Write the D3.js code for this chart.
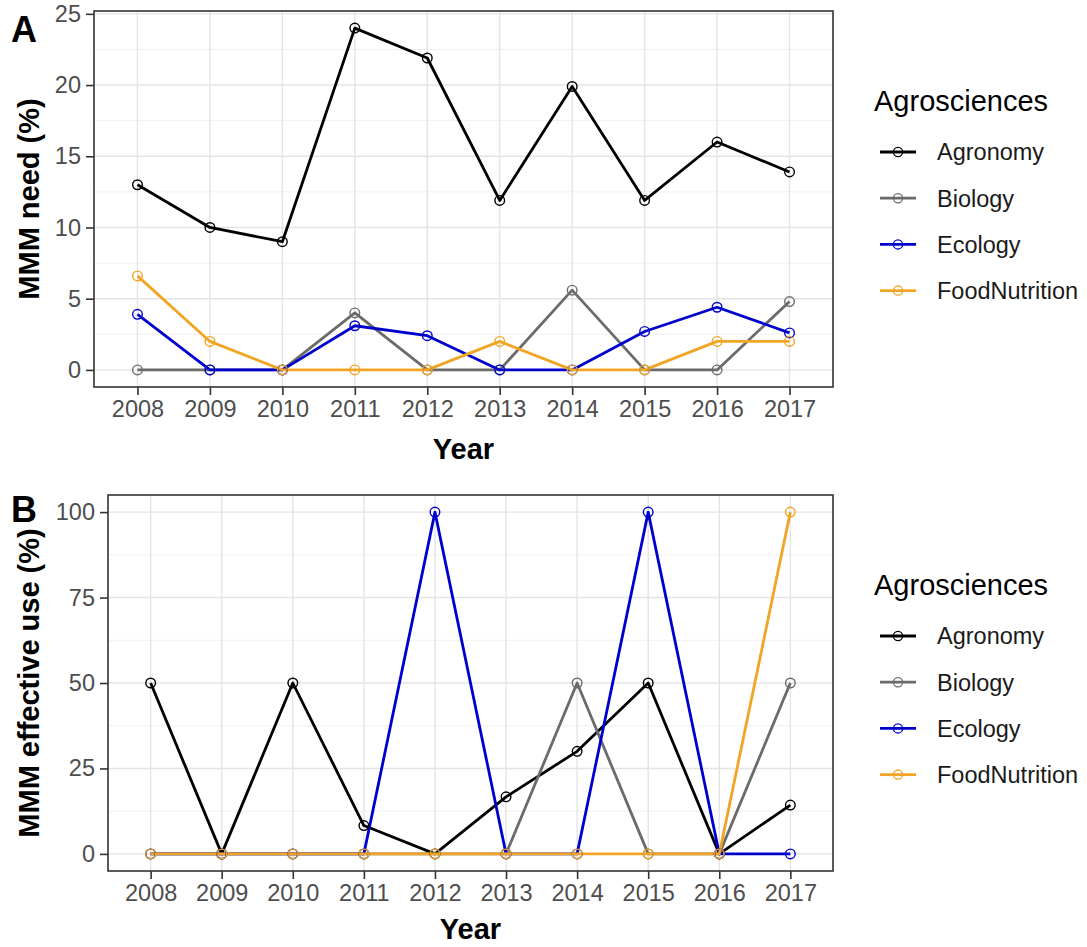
<!DOCTYPE html>
<html>
<head>
<meta charset="utf-8">
<script src="https://cdn.jsdelivr.net/npm/d3@7"></script>
<style>
  html, body { margin: 0; padding: 0; background: #fff; }
  svg { display: block; font-family: "Liberation Sans", Arial, sans-serif; }
</style>
</head>
<body>
<svg id="chart" width="1087" height="947"></svg>
<script>
// Years on the x axis
const years = [2008, 2009, 2010, 2011, 2012, 2013, 2014, 2015, 2016, 2017];
const groups = ["Agronomy", "Biology", "Ecology", "FoodNutrition"];

// Panel A: MMM need (%)
const needAgronomy     = [13, 10, 9, 24, 21.9, 11.9, 19.9, 11.9, 16, 13.9];
const needBiology      = [0, 0, 0, 4, 0, 0, 5.6, 0, 0, 4.8];
const needEcology      = [3.9, 0, 0, 3.1, 2.4, 0, 0, 2.7, 4.4, 2.6];
const needFoodNutrition = [6.6, 2, 0, 0, 0, 2, 0, 0, 2, 2];
const needTicks = [0, 5, 10, 15, 20, 25];

// Panel B: MMM effective use (%)
const useAgronomy      = [50, 0, 50, 8.3, 0, 16.7, 30, 50, 0, 14.3];
const useBiology       = [0, 0, 0, 0, 0, 0, 50, 0, 0, 50];
const useEcology       = [0, 0, 0, 0, 100, 0, 0, 100, 0, 0];
const useFoodNutrition = [0, 0, 0, 0, 0, 0, 0, 0, 0, 100];
const useTicks = [0, 25, 50, 75, 100];

const palette = {
  Agronomy: "#000000",
  Biology: "#6b6b6b",
  Ecology: "#0000cd",
  FoodNutrition: "#f0a524"
};

const svg = d3.select("#chart");
svg.append("rect").attr("width", 1087).attr("height", 947).attr("fill", "#fff");

function drawPanel(opt) {
  const { left, top, right, bottom, seriesValues, ticks, yTitle, tag, tagY, legendTop, xTitleY } = opt;
  const g = svg.append("g");

  const x = d3.scalePoint().domain(years).range([left, right]).padding(0.6);
  const maxV = d3.max(seriesValues.flat());
  const pad = maxV * 0.05;
  const y = d3.scaleLinear().domain([-pad, maxV + pad]).range([bottom, top]);

  // minor grid (half-way between major ticks)
  const step = ticks[1] - ticks[0];
  const minor = d3.range(ticks[0] - step / 2, maxV + pad, step)
    .filter(v => v > -pad && v < maxV + pad);
  g.selectAll(".gminor").data(minor).join("line")
    .attr("x1", left).attr("x2", right)
    .attr("y1", d => y(d)).attr("y2", d => y(d))
    .attr("stroke", "#ececec").attr("stroke-width", 0.8);
  // major grid
  g.selectAll(".gmajor").data(ticks).join("line")
    .attr("x1", left).attr("x2", right)
    .attr("y1", d => y(d)).attr("y2", d => y(d))
    .attr("stroke", "#e4e4e4").attr("stroke-width", 1.4);
  g.selectAll(".gvert").data(years).join("line")
    .attr("x1", d => x(d)).attr("x2", d => x(d))
    .attr("y1", top).attr("y2", bottom)
    .attr("stroke", "#e4e4e4").attr("stroke-width", 1.4);

  // lines then points, in group order
  const line = d3.line().x((d, i) => x(years[i])).y(d => y(d));
  seriesValues.forEach((vals, k) => {
    g.append("path").datum(vals)
      .attr("d", line)
      .attr("fill", "none")
      .attr("stroke", palette[groups[k]])
      .attr("stroke-width", 2.8)
      .attr("stroke-linejoin", "round");
  });
  seriesValues.forEach((vals, k) => {
    g.selectAll(null).data(vals).join("circle")
      .attr("cx", (d, i) => x(years[i]))
      .attr("cy", d => y(d))
      .attr("r", 4.8)
      .attr("fill", "none")
      .attr("stroke", palette[groups[k]])
      .attr("stroke-width", 1.4);
  });

  // panel border
  g.append("rect")
    .attr("x", left).attr("y", top)
    .attr("width", right - left).attr("height", bottom - top)
    .attr("fill", "none").attr("stroke", "#333").attr("stroke-width", 1.6);

  // axes
  const ax = g.append("g").attr("transform", `translate(0,${bottom})`)
    .call(d3.axisBottom(x).tickSize(8).tickPadding(5).tickSizeOuter(0));
  const ay = g.append("g").attr("transform", `translate(${left},0)`)
    .call(d3.axisLeft(y).tickValues(ticks).tickSize(8).tickPadding(5).tickSizeOuter(0));
  [ax, ay].forEach(a => {
    a.select(".domain").remove();
    a.selectAll(".tick line").attr("stroke", "#333").attr("stroke-width", 1.6);
    a.selectAll(".tick text")
      .attr("fill", "#4d4d4d")
      .style("font-size", "23.5px")
      .style("font-family", "'Liberation Sans', Arial, sans-serif");
  });

  // axis titles
  g.append("text")
    .attr("x", (left + right) / 2).attr("y", xTitleY)
    .attr("text-anchor", "middle")
    .style("font-size", "29px").style("font-weight", "bold")
    .attr("fill", "#000")
    .text("Year");
  g.append("text")
    .attr("transform", `translate(39,${(top + bottom) / 2}) rotate(-90)`)
    .attr("text-anchor", "middle")
    .style("font-size", "29px").style("font-weight", "bold")
    .attr("fill", "#000")
    .text(yTitle);

  // tag
  g.append("text")
    .attr("x", 11).attr("y", tagY)
    .style("font-size", "36px").style("font-weight", "bold")
    .attr("fill", "#000")
    .text(tag);

  // legend
  const lg = g.append("g");
  lg.append("text")
    .attr("x", 874).attr("y", legendTop)
    .style("font-size", "29px")
    .attr("fill", "#000")
    .text("Agrosciences");
  groups.forEach((name, k) => {
    const cy = legendTop + 41 + k * 46.2;
    lg.append("line")
      .attr("x1", 880).attr("x2", 916).attr("y1", cy).attr("y2", cy)
      .attr("stroke", palette[name]).attr("stroke-width", 2.8);
    lg.append("circle")
      .attr("cx", 898).attr("cy", cy).attr("r", 4.6)
      .attr("fill", "none").attr("stroke", palette[name]).attr("stroke-width", 1.3);
    lg.append("text")
      .attr("x", 937).attr("y", cy + 8.3)
      .style("font-size", "23.5px")
      .attr("fill", "#1a1a1a")
      .text(name);
  });
}

drawPanel({
  left: 94, top: 11, right: 833, bottom: 387,
  seriesValues: [needAgronomy, needBiology, needEcology, needFoodNutrition],
  ticks: needTicks,
  yTitle: "MMM need (%)",
  tag: "A", tagY: 42,
  legendTop: 111,
  xTitleY: 459
});

drawPanel({
  left: 108, top: 495, right: 833, bottom: 871,
  seriesValues: [useAgronomy, useBiology, useEcology, useFoodNutrition],
  ticks: useTicks,
  yTitle: "MMM effective use (%)",
  tag: "B", tagY: 522,
  legendTop: 595,
  xTitleY: 939
});
</script>
</body>
</html>
